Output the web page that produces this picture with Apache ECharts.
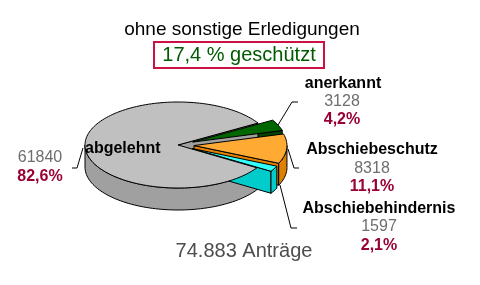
<!DOCTYPE html>
<html>
<head>
<meta charset="utf-8">
<script src="https://cdn.jsdelivr.net/npm/echarts@6/dist/echarts.min.js"></script>
<style>html,body{margin:0;padding:0;background:#fff}#c{width:480px;height:285px}</style>
</head>
<body>
<div id="c"></div>
<script>
// ---- data ----
const categories = ['abgelehnt', 'anerkannt', 'Abschiebeschutz', 'Abschiebehindernis'];
const counts = [61840, 3128, 8318, 1597];
const percentLabels = ['82,6%', '4,2%', '11,1%', '2,1%'];
const titleText = 'ohne sonstige Erledigungen';
const subtitleText = '17,4 % geschützt';
const totalText = '74.883 Anträge';

// ---- styles / layout ----
const topColors = ['#C0C0C0', '#006600', '#FFAA33', '#33FFFF'];
const wallColors = ['#A0A0A0', '#004400', '#E08000', '#00CCCC'];
const explode = [0, 16, 16, 16];
const G = { cx: 178, cy: 145, rx: 93, ry: 43, depth: 22, start: -32 };
const FONT = '"Liberation Sans", Arial, sans-serif';
const labelPos = [
  { name: [85, 149, 'left'], val: [40, 158], pct: [40, 177], line: [[72, 168], [77, 168], [83, 148]] },
  { name: [343, 84, 'center'], val: [342, 102], pct: [342, 120], line: [[298, 102], [292, 102], [278, 125]] },
  { name: [372, 150, 'center'], val: [372, 169], pct: [372, 187], line: [[299, 168], [294, 168], [288, 149]] },
  { name: [379, 209, 'center'], val: [379, 227], pct: [379, 246], line: [[297, 228], [291, 228], [280, 185]] }
];

const total = counts.reduce((a, b) => a + b, 0);
const slices = [];
let cum = 0;
counts.forEach((v, i) => {
  const hi = G.start - cum / total * 360;
  const lo = hi - v / total * 360;
  cum += v;
  const m = (hi + lo) / 2 * Math.PI / 180;
  const ox = explode[i] * Math.cos(m);
  const oy = -explode[i] * (G.ry / G.rx) * Math.sin(m);
  const alpha = (hi - lo) / 2 * Math.PI / 180;
  const dist = 2 * Math.sin(alpha) / (3 * alpha);
  const depthY = G.cy + oy - G.ry * dist * Math.sin(m);
  slices.push({ hi, lo, ox, oy, depthY });
});
const order = slices.map((s, i) => i).sort((a, b) => slices[a].depthY - slices[b].depthY);
order.forEach((idx, r) => { slices[idx].rank = r; });

function pt(t, s, dz) {
  const r = t * Math.PI / 180;
  return [G.cx + s.ox + G.rx * Math.cos(r), G.cy + s.oy - G.ry * Math.sin(r) + dz];
}
function arc(a, b, s, dz) {
  const n = Math.max(2, Math.ceil(Math.abs(b - a) / 2));
  const pts = [];
  for (let k = 0; k <= n; k++) pts.push(pt(a + (b - a) * k / n, s, dz));
  return pts;
}

function renderItem(params, api) {
  const i = params.dataIndex;
  const s = slices[i];
  const children = [];
  const edge = { stroke: '#000', lineWidth: 1, lineJoin: 'round' };
  const c0 = [G.cx + s.ox, G.cy + s.oy];
  const c1 = [c0[0], c0[1] + G.depth];
  const cutFace = (phi) => ({
    type: 'polygon', z2: s.rank * 5 + 1,
    shape: { points: [c0, pt(phi, s, 0), pt(phi, s, G.depth), c1] },
    style: Object.assign({ fill: wallColors[i] }, edge)
  });
  if (Math.cos(s.hi * Math.PI / 180) < 0) children.push(cutFace(s.hi));
  if (Math.cos(s.lo * Math.PI / 180) > 0) children.push(cutFace(s.lo));
  for (let k = Math.floor(s.lo / 360) - 1; k <= Math.ceil(s.hi / 360) + 1; k++) {
    const a = Math.max(s.lo, -180 + 360 * k);
    const b = Math.min(s.hi, 360 * k);
    if (b > a) {
      children.push({
        type: 'polygon', z2: s.rank * 5 + 2,
        shape: { points: arc(a, b, s, 0).concat(arc(b, a, s, G.depth)) },
        style: Object.assign({ fill: wallColors[i] }, edge)
      });
    }
  }
  children.push({
    type: 'polygon', z2: 50 + i,
    shape: { points: [c0].concat(arc(s.hi, s.lo, s, 0)) },
    style: Object.assign({ fill: topColors[i] }, edge)
  });
  return { type: 'group', children };
}

// ---- text graphics ----
const graphics = [];
graphics.push({ type: 'text', x: 242, y: 30, style: { text: titleText, font: '19px ' + FONT, fill: '#000', align: 'center', verticalAlign: 'middle' } });
graphics.push({ type: 'rect', shape: { x: 154, y: 42, width: 170, height: 26 }, style: { fill: 'none', stroke: '#CC1144', lineWidth: 2 } });
graphics.push({ type: 'text', x: 239, y: 55, style: { text: subtitleText, font: '20px ' + FONT, fill: '#005A00', align: 'center', verticalAlign: 'middle', textShadowColor: '#A8A8A8', textShadowOffsetX: 2, textShadowOffsetY: 2, textShadowBlur: 0 } });
graphics.push({ type: 'text', x: 244, y: 251, style: { text: totalText, font: '20px ' + FONT, fill: '#4D4D4D', align: 'center', verticalAlign: 'middle' } });
categories.forEach((name, i) => {
  const p = labelPos[i];
  graphics.push({ type: 'text', x: p.name[0], y: p.name[1], z: 10, style: { text: name, font: 'bold 16px ' + FONT, fill: '#000', align: p.name[2], verticalAlign: 'middle' } });
  graphics.push({ type: 'text', x: p.val[0], y: p.val[1], style: { text: String(counts[i]), font: '16px ' + FONT, fill: '#6E6E6E', align: 'center', verticalAlign: 'middle' } });
  graphics.push({ type: 'text', x: p.pct[0], y: p.pct[1], style: { text: percentLabels[i], font: 'bold 16px ' + FONT, fill: '#990033', align: 'center', verticalAlign: 'middle' } });
  graphics.push({ type: 'polyline', shape: { points: p.line }, style: { stroke: '#000', lineWidth: 1, fill: 'none' } });
});

const chart = echarts.init(document.getElementById('c'), null, { renderer: 'canvas' });
chart.setOption({
  backgroundColor: '#fff',
  animation: false,
  series: [{
    type: 'custom',
    coordinateSystem: 'none',
    renderItem: renderItem,
    data: counts.map((v, i) => ({ name: categories[i], value: v })),
    silent: true
  }],
  graphic: graphics
});
</script>
</body>
</html>
